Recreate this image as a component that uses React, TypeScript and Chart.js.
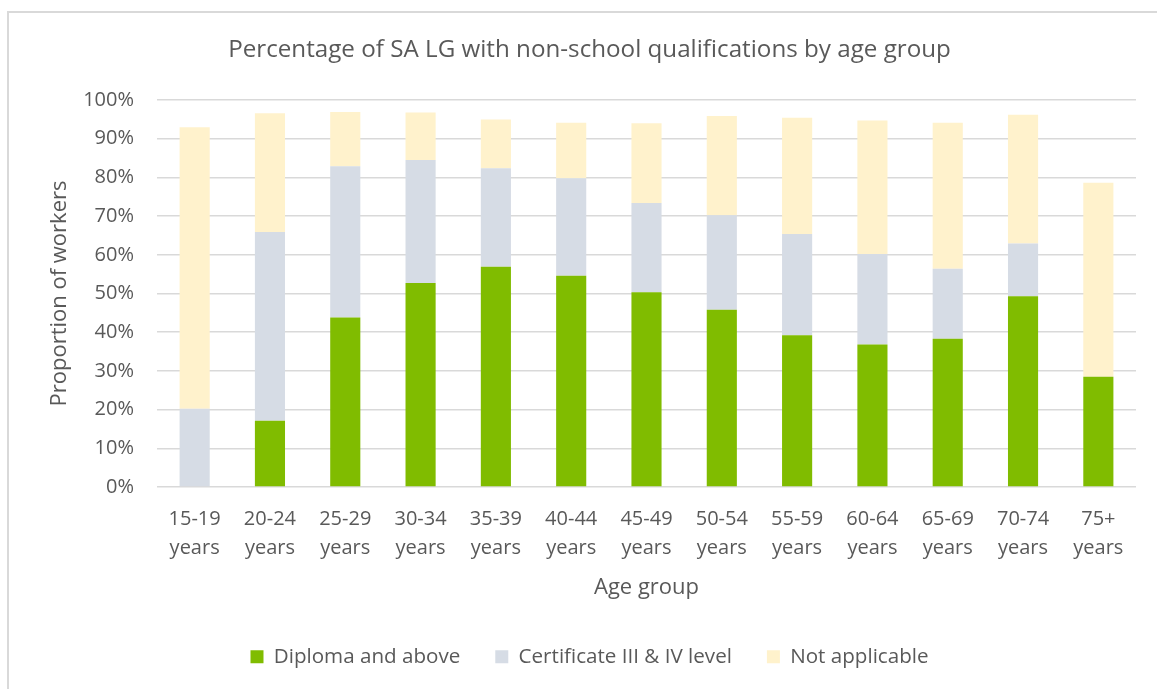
import React, { useEffect, useRef } from "react";
import { Chart, registerables } from "chart.js";

Chart.register(...registerables);

const categories = [
  ["15-19", "years"],
  ["20-24", "years"],
  ["25-29", "years"],
  ["30-34", "years"],
  ["35-39", "years"],
  ["40-44", "years"],
  ["45-49", "years"],
  ["50-54", "years"],
  ["55-59", "years"],
  ["60-64", "years"],
  ["65-69", "years"],
  ["70-74", "years"],
  ["75+", "years"],
];

const diplomaAndAbove = [0, 17.1, 43.8, 52.7, 56.9, 54.6, 50.3, 45.8, 39.2, 36.8, 38.3, 49.3, 28.5];
const certificateIIIandIV = [20.2, 48.8, 39.1, 31.8, 25.5, 25.2, 23.1, 24.4, 26.2, 23.4, 18.1, 13.6, 0];
const notApplicable = [72.8, 30.7, 14.0, 12.3, 12.6, 14.3, 20.6, 25.7, 30.0, 34.5, 37.7, 33.3, 50.1];

const seriesNames = ["Diploma and above", "Certificate III & IV level", "Not applicable"];
const seriesColors = ["#80BC00", "#D6DCE5", "#FFF2CC"];

const titleText = "Percentage of SA LG with non-school qualifications by age group";
const xTitle = "Age group";
const yTitle = "Proportion of workers";

const FONT = "'Open Sans', 'Noto Sans', sans-serif";
const TEXT = "#595959";

export default function App() {
  const canvasRef = useRef<HTMLCanvasElement | null>(null);

  useEffect(() => {
    document.body.style.margin = "0";
    const canvas = canvasRef.current;
    if (!canvas) return;
    const values = [diplomaAndAbove, certificateIIIandIV, notApplicable];
    const chart = new Chart(canvas, {
      type: "bar",
      data: {
        labels: categories,
        datasets: values.map((v, i) => ({
          label: seriesNames[i],
          data: v,
          backgroundColor: seriesColors[i],
          borderWidth: 0,
          barPercentage: 0.4,
          categoryPercentage: 1,
        })),
      },
      options: {
        animation: false,
        responsive: false,
        maintainAspectRatio: false,
        layout: { padding: { left: 43, right: 21, top: 0, bottom: 12 } },
        plugins: {
          title: {
            display: true,
            text: titleText,
            color: TEXT,
            font: { family: FONT, size: 24.2, weight: "normal" },
            padding: { top: 36, bottom: 35 },
          },
          legend: {
            position: "bottom",
            labels: {
              color: TEXT,
              font: { family: FONT, size: 20.6 },
              boxWidth: 13,
              boxHeight: 13,
              padding: 35,
            },
          },
          tooltip: { enabled: false },
        },
        scales: {
          x: {
            stacked: true,
            grid: { display: false, drawTicks: false },
            border: { display: false },
            ticks: {
              color: TEXT,
              font: { family: FONT, size: 20, lineHeight: 1.45 },
              padding: 18,
              maxRotation: 0,
              autoSkip: false,
            },
            title: {
              display: true,
              text: xTitle,
              color: TEXT,
              font: { family: FONT, size: 22 },
              padding: { top: -6, bottom: 10 },
            },
          },
          y: {
            stacked: true,
            min: 0,
            max: 100,
            grid: { color: "#D9D9D9", lineWidth: 1.5, drawTicks: false },
            border: { display: false },
            afterFit: (scale: any) => {
              scale.width = 114;
            },
            ticks: {
              stepSize: 10,
              color: TEXT,
              font: { family: FONT, size: 20 },
              padding: 23,
              callback: (v: any) => v + "%",
            },
            title: {
              display: true,
              text: yTitle,
              color: TEXT,
              font: { family: FONT, size: 22 },
              padding: { top: 4, bottom: 4 },
            },
          },
        },
      },
    });
    return () => chart.destroy();
  }, []);

  return (
    <div style={{ position: "relative", width: 1157, height: 689, background: "#fff", overflow: "hidden" }}>
      <div
        style={{
          position: "absolute",
          left: 7,
          top: 11,
          width: 1157,
          height: 689,
          borderLeft: "2px solid #D9D9D9",
          borderTop: "2px solid #D9D9D9",
          boxSizing: "border-box",
        }}
      />
      <canvas ref={canvasRef} width={1157} height={689} style={{ position: "absolute", left: 0, top: 0 }} />
    </div>
  );
}
